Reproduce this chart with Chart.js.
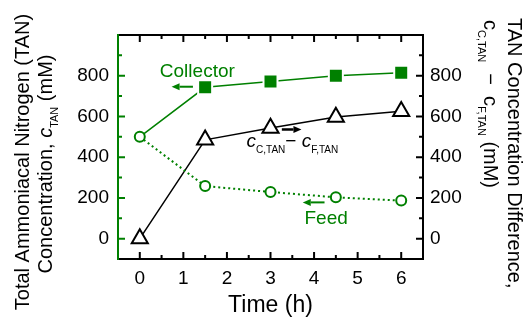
<!DOCTYPE html>
<html>
<head>
<meta charset="utf-8">
<script src="https://cdn.jsdelivr.net/npm/chart.js@4.4.0/dist/chart.umd.min.js"></script>
<style>
html, body { margin: 0; padding: 0; background: #fff; }
</style>
</head>
<body>
<canvas id="chart" width="526" height="320"></canvas>
<script>
// values
const time = [0, 1.5, 3, 4.5, 6];
const collector = [500, 743, 772, 800, 815];
const feed = [500, 258, 229, 203, 187];
const difference = [0, 485, 543, 597, 625];
const xTicks = [0, 1, 2, 3, 4, 5, 6];
const yTicks = [0, 200, 400, 600, 800];

const green = '#008000';
const FONT = '"Liberation Sans", Arial, Helvetica, sans-serif';

function pts(values) {
    return time.map((t, i) => ({ x: t, y: values[i] }));
}

// draw text made of parts, some of them subscripts
function drawRich(ctx, parts, x, y, angle, align, color, size, subSize) {
    ctx.save();
    ctx.translate(x, y);
    ctx.rotate(angle);
    ctx.fillStyle = color;
    ctx.textBaseline = 'alphabetic';
    ctx.textAlign = 'left';
    const fontOf = p => (p.italic ? 'italic ' : '') + (p.sub ? subSize : size) + 'px ' + FONT;
    let total = 0;
    const widths = parts.map(p => {
        ctx.font = fontOf(p);
        const w = ctx.measureText(p.t).width;
        total += w;
        return w;
    });
    let cx = align === 'center' ? -total / 2 : 0;
    parts.forEach((p, i) => {
        ctx.font = fontOf(p);
        ctx.fillText(p.t, cx, p.sub ? size * 0.28 : 0);
        cx += widths[i];
    });
    ctx.restore();
}

function arrow(ctx, x1, y1, x2, y2, color, width) {
    const dir = Math.sign(x2 - x1);
    const head = 8;
    ctx.save();
    ctx.strokeStyle = color;
    ctx.fillStyle = color;
    ctx.lineWidth = width;
    ctx.beginPath();
    ctx.moveTo(x1, y1);
    ctx.lineTo(x2 - dir * head, y2);
    ctx.stroke();
    ctx.beginPath();
    ctx.moveTo(x2, y2);
    ctx.lineTo(x2 - dir * head, y2 - 3.5);
    ctx.lineTo(x2 - dir * head, y2 + 3.5);
    ctx.closePath();
    ctx.fill();
    ctx.restore();
}

const decorations = {
    id: 'decorations',
    afterDraw(chart) {
        const ctx = chart.ctx;
        const a = chart.chartArea;
        const sx = chart.scales.x, sy = chart.scales.y;

        // inward tick marks
        ctx.save();
        ctx.lineWidth = 2;
        const xMinor = xTicks.slice(1).map(v => v - 0.5);
        const yMinor = yTicks.map(v => v + 100);
        const xMarks = xTicks.map(v => [v, 7]).concat(xMinor.map(v => [v, 4]));
        const yMarks = yTicks.map(v => [v, 7]).concat(yMinor.map(v => [v, 4]));
        ctx.strokeStyle = '#000';
        ctx.beginPath();
        xMarks.forEach(([v, len]) => {
            const px = sx.getPixelForValue(v);
            ctx.moveTo(px, a.bottom); ctx.lineTo(px, a.bottom - len);
            ctx.moveTo(px, a.top); ctx.lineTo(px, a.top + len);
        });
        yMarks.forEach(([v, len]) => {
            const py = sy.getPixelForValue(v);
            ctx.moveTo(a.right, py); ctx.lineTo(a.right - len, py);
        });
        ctx.stroke();
        ctx.strokeStyle = green;
        ctx.beginPath();
        yMarks.forEach(([v, len]) => {
            const py = sy.getPixelForValue(v);
            ctx.moveTo(a.left, py); ctx.lineTo(a.left + len, py);
        });
        ctx.stroke();

        // frame
        ctx.strokeStyle = '#000';
        ctx.beginPath();
        ctx.moveTo(a.left, a.top); ctx.lineTo(a.right, a.top);
        ctx.lineTo(a.right, a.bottom); ctx.lineTo(a.left, a.bottom);
        ctx.stroke();
        ctx.strokeStyle = green;
        ctx.beginPath();
        ctx.moveTo(a.left, a.top - 1); ctx.lineTo(a.left, a.bottom + 1);
        ctx.stroke();
        ctx.restore();

        // axis titles
        drawRich(ctx, [{ t: 'Total Ammoniacal Nitrogen (TAN)' }], 29, 162, -Math.PI / 2, 'center', '#000', 20, 11);
        drawRich(ctx, [
            { t: 'Concentration, ' }, { t: 'c', italic: true }, { t: 'TAN', sub: true }, { t: ' (mM)' }
        ], 52, 164, -Math.PI / 2, 'center', '#000', 20, 11);
        drawRich(ctx, [{ t: 'TAN Concentration Difference,' }], 508, 18, Math.PI / 2, 'left', '#000', 20, 11);
        drawRich(ctx, [
            { t: 'c' }, { t: 'C,TAN', sub: true }, { t: '  \u2212  ' }, { t: 'c' }, { t: 'F,TAN', sub: true }, { t: ' (mM)' }
        ], 484, 20, Math.PI / 2, 'left', '#000', 20, 11);

        // in-plot labels and arrows
        const X = v => sx.getPixelForValue(v), Y = v => sy.getPixelForValue(v);
        drawRich(ctx, [{ t: 'Collector' }], X(0.46), Y(795), 0, 'left', green, 19, 10);
        arrow(ctx, X(1.22), Y(746), X(0.73), Y(746), green, 2);
        drawRich(ctx, [{ t: 'Feed' }], X(3.78), Y(71), 0, 'left', green, 19, 10);
        arrow(ctx, X(4.24), Y(178), X(3.74), Y(178), green, 2);
        drawRich(ctx, [
            { t: 'c', italic: true }, { t: 'C,TAN', sub: true }, { t: '\u2212 ' }, { t: 'c', italic: true }, { t: 'F,TAN', sub: true }
        ], X(2.45), Y(448), 0, 'left', '#000', 19, 10);
        arrow(ctx, X(3.26), Y(536), X(3.71), Y(536), '#000', 2.5);
    }
};

const tickFont = { family: FONT, size: 19 };

new Chart(document.getElementById('chart'), {
    type: 'line',
    data: {
        datasets: [
            {
                label: 'Feed',
                data: pts(feed),
                yAxisID: 'y',
                order: 0,
                borderColor: green,
                borderWidth: 2,
                borderDash: [2, 3],
                pointStyle: 'circle',
                pointRadius: 5,
                pointBorderWidth: 2,
                pointBorderColor: green,
                pointBackgroundColor: '#fff'
            },
            {
                label: 'Collector',
                data: pts(collector),
                yAxisID: 'y',
                order: 1,
                borderColor: green,
                borderWidth: 1.5,
                pointStyle: 'rect',
                pointRadius: [0, 9.9, 9.9, 9.9, 9.9],
                pointBorderWidth: 2,
                pointBorderColor: '#fff',
                pointBackgroundColor: green
            },
            {
                label: 'Difference',
                data: pts(difference),
                yAxisID: 'y2',
                order: 2,
                borderColor: '#000',
                borderWidth: 1.5,
                pointStyle: 'triangle',
                pointRadius: 9.3,
                pointBorderWidth: 2,
                pointBorderColor: '#000',
                pointBackgroundColor: '#fff'
            }
        ]
    },
    options: {
        responsive: false,
        animation: false,
        events: [],
        layout: { padding: { top: 35, left: 0, right: 0, bottom: 0 } },
        plugins: { legend: { display: false }, tooltip: { enabled: false } },
        elements: { line: { tension: 0 } },
        scales: {
            x: {
                type: 'linear',
                min: -0.5,
                max: 6.5,
                afterBuildTicks: s => { s.ticks = xTicks.map(v => ({ value: v })); },
                afterFit: s => { s.height = 61; },
                grid: { display: false, drawTicks: false },
                border: { display: false },
                ticks: { font: tickFont, color: '#000', padding: 8, maxRotation: 0, autoSkip: false },
                title: { display: true, text: 'Time (h)', color: '#000', font: { family: FONT, size: 23 }, padding: { top: 0, bottom: 1 } }
            },
            y: {
                position: 'left',
                min: -100,
                max: 1000,
                afterBuildTicks: s => { s.ticks = yTicks.map(v => ({ value: v })); },
                afterFit: s => { s.width = 118; },
                grid: { display: false, drawTicks: false },
                border: { display: false },
                ticks: { font: tickFont, color: '#000', padding: 9 }
            },
            y2: {
                position: 'right',
                min: -100,
                max: 1000,
                afterBuildTicks: s => { s.ticks = yTicks.map(v => ({ value: v })); },
                afterFit: s => { s.width = 103; },
                grid: { display: false, drawTicks: false },
                border: { display: false },
                ticks: { font: tickFont, color: '#000', padding: 7 }
            }
        }
    },
    plugins: [decorations]
});
</script>
</body>
</html>
